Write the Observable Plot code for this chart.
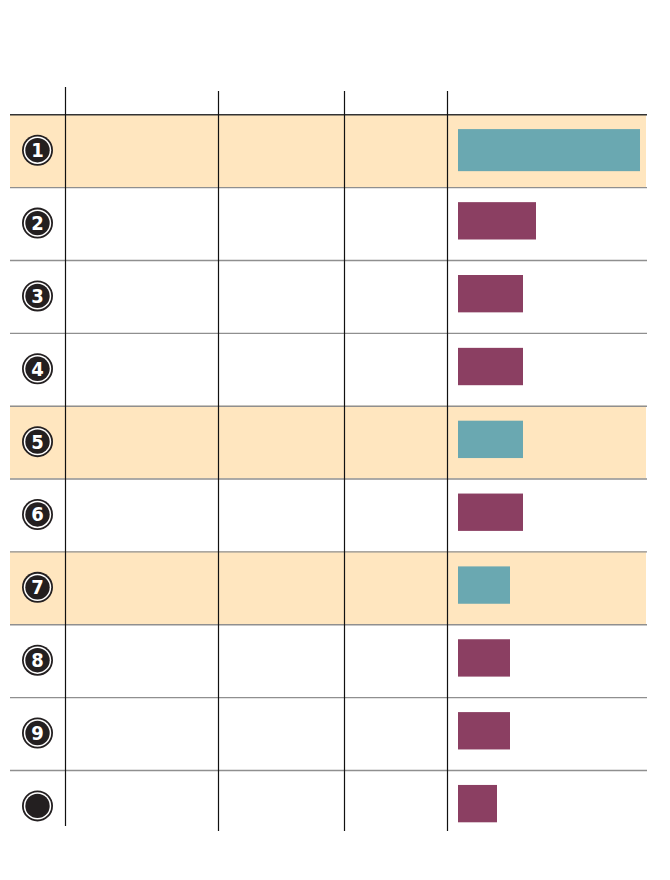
<!DOCTYPE html>
<html>
<head>
<meta charset="utf-8">
<script src="https://cdn.jsdelivr.net/npm/d3@7"></script>
<script src="https://cdn.jsdelivr.net/npm/@observablehq/plot@0.6"></script>
<style>
  html, body { margin: 0; padding: 0; background: #fff; }
  #chart svg { display: block; }
</style>
</head>
<body>
<div id="chart"></div>
<script>
// ---- data ----
const ranks = [1, 2, 3, 4, 5, 6, 7, 8, 9, 10];
const rankLabels = ["1", "2", "3", "4", "5", "6", "7", "8", "9", ""];
const values = [14, 6, 5, 5, 5, 5, 4, 4, 4, 3];
const highlighted = [true, false, false, false, true, false, true, false, false, false];

const rows = ranks.map((r, i) => ({rank: r, label: rankLabels[i], value: values[i], hi: highlighted[i]}));

// ---- layout (pixels) ----
const W = 670, H = 880;
const xDomain = [0, 14], xRange = [458, 640];
const yDomain = [0, 10], yRange = [114.3, 842.8];
const px2x = d3.scaleLinear().domain(xRange).range(xDomain);
const px2y = d3.scaleLinear().domain(yRange).range(yDomain);

const tableLeft = px2x(10), tableRight = px2x(647);
const columnLines = [
  {x: px2x(65), y1: px2y(87), y2: px2y(826)},
  {x: px2x(218), y1: px2y(91), y2: px2y(831)},
  {x: px2x(344), y1: px2y(91), y2: px2y(831)},
  {x: px2x(447), y1: px2y(91), y2: px2y(831)}
];
const badgeX = px2x(37);

const teal = "#6AA8B1", maroon = "#8B3F62", cream = "#FFE6BF";

const chart = Plot.plot({
  width: W,
  height: H,
  margin: 0,
  x: {domain: xDomain, range: xRange, axis: null},
  y: {domain: yDomain, range: yRange, axis: null},
  marks: [
    // highlighted row backgrounds
    Plot.rect(rows.filter(d => d.hi), {
      x1: tableLeft, x2: px2x(646),
      y1: d => d.rank - 1, y2: d => d.rank,
      fill: cream
    }),
    // row separators
    Plot.ruleY(ranks.slice(0, 9), {
      x1: tableLeft, x2: tableRight,
      stroke: "#8f8f8f", strokeWidth: 1.4
    }),
    // top rule
    Plot.ruleY([0], {x1: tableLeft, x2: tableRight, stroke: "#333", strokeWidth: 1.6}),
    // column lines
    Plot.ruleX(columnLines, {x: "x", y1: "y1", y2: "y2", stroke: "#111", strokeWidth: 1.2}),
    // bars (first row is taller)
    Plot.rect(rows.filter(d => d.rank === 1), {
      x1: 0, x2: "value",
      y1: d => d.rank - 1, y2: d => d.rank,
      insetTop: 14.8, insetBottom: 16,
      fill: d => d.hi ? teal : maroon
    }),
    Plot.rect(rows.filter(d => d.rank !== 1), {
      x1: 0, x2: "value",
      y1: d => d.rank - 1, y2: d => d.rank,
      insetTop: 15, insetBottom: 20.5,
      fill: d => d.hi ? teal : maroon
    }),
    // rank badges
    Plot.dot(rows, {x: badgeX, y: d => d.rank - 0.5, dy: -1, r: 15.5, fill: "#231f20", stroke: "none"}),
    Plot.dot(rows, {x: badgeX, y: d => d.rank - 0.5, dy: -1, r: 13.7, fill: "#fff", stroke: "none"}),
    Plot.dot(rows, {x: badgeX, y: d => d.rank - 0.5, dy: -1, r: 12.2, fill: "#231f20", stroke: "none"}),
    Plot.text(rows, {
      x: badgeX, y: d => d.rank - 0.5, dy: -0.5,
      text: "label", fill: "#fff",
      fontSize: 20, fontWeight: "bold", fontFamily: "DejaVu Sans Condensed, DejaVu Sans, sans-serif"
    })
  ]
});

document.getElementById("chart").appendChild(chart);
</script>
</body>
</html>
